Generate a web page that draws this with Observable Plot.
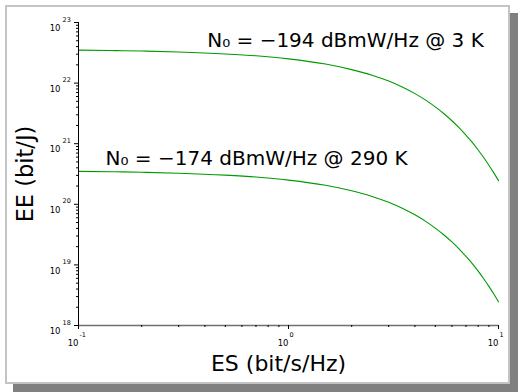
<!DOCTYPE html>
<html>
<head>
<meta charset="utf-8">
<script src="https://cdn.jsdelivr.net/npm/d3@7"></script>
<script src="https://cdn.jsdelivr.net/npm/@observablehq/plot@0.6"></script>
<style>
  html, body { margin: 0; padding: 0; background: #fff; }
  #wrap { position: relative; width: 518px; height: 392px; overflow: hidden; }
  #panel { position: absolute; left: 5px; top: 5px; width: 505px; height: 379px; box-sizing: border-box;
           border: 2px solid #c4c4c4; background: #fff; box-shadow: 8px 8px 0 #808080; }
  #chart { position: absolute; left: 0; top: 0; }
</style>
</head>
<body>
<div id="wrap"><div id="panel"></div><div id="chart"></div></div>
<script>
// Spectral efficiency (bit/s/Hz)
const es = [0.1, 0.15, 0.2, 0.3, 0.5, 0.7, 1, 1.5, 2, 2.5, 3, 3.5, 4, 4.5, 5, 5.5, 6, 6.5, 7, 7.5, 8, 8.5, 9, 9.5, 10];
// Energy efficiency (bit/J), N0 = -194 dBmW/Hz @ 3 K
const eeCold = [3.50e22, 3.44e22, 3.38e22, 3.26e22, 3.03e22, 2.82e22, 2.51e22, 2.06e22, 1.67e22, 1.35e22,
                1.08e22, 8.52e21, 6.70e21, 5.23e21, 4.05e21, 3.12e21, 2.39e21, 1.82e21, 1.38e21, 1.05e21,
                7.88e20, 5.91e20, 4.42e20, 3.30e20, 2.46e20];
// Energy efficiency (bit/J), N0 = -174 dBmW/Hz @ 290 K
const eeWarm = [3.50e20, 3.44e20, 3.38e20, 3.26e20, 3.03e20, 2.82e20, 2.51e20, 2.06e20, 1.67e20, 1.35e20,
                1.08e20, 8.52e19, 6.70e19, 5.23e19, 4.05e19, 3.12e19, 2.39e19, 1.82e19, 1.38e19, 1.05e19,
                7.88e18, 5.91e18, 4.42e18, 3.30e18, 2.46e18];
const seriesNames = ["N₀ = −194 dBmW/Hz @ 3 K", "N₀ = −174 dBmW/Hz @ 290 K"];
const xMajor = [0.1, 1, 10];
const xExp = ["-1", "0", "1"];
const yMajor = [1e18, 1e19, 1e20, 1e21, 1e22, 1e23];
const yExp = ["18", "19", "20", "21", "22", "23"];
const xLabel = "ES (bit/s/Hz)";
const yLabel = "EE (bit/J)";

const xMinor = xMajor.slice(0, -1).flatMap(d => [2,3,4,5,6,7,8,9].map(k => k * d));
const yMinor = yMajor.slice(0, -1).flatMap(d => [2,3,4,5,6,7,8,9].map(k => k * d));

const rows = [
  ...es.map((x, i) => ({x, y: eeCold[i], s: seriesNames[0]})),
  ...es.map((x, i) => ({x, y: eeWarm[i], s: seriesNames[1]}))
];

const font = "DejaVu Sans";
const green = "#009a00";

const chart = Plot.plot({
  width: 518, height: 392,
  marginLeft: 78, marginRight: 20, marginTop: 22, marginBottom: 67,
  style: {fontFamily: font, background: "transparent", overflow: "visible"},
  x: {type: "log", domain: [0.1, 10], label: null, axis: null},
  y: {type: "log", domain: [1e18, 1e23], label: null, axis: null},
  marks: [
    Plot.line(rows, {x: "x", y: "y", z: "s", stroke: green, strokeWidth: 1.1, curve: "monotone-x"}),
    // axes lines
    Plot.ruleY([1e18], {stroke: "#707070", strokeWidth: 1.3}),
    Plot.ruleX([0.1], {stroke: "#000", strokeWidth: 1}),
    // ticks
    Plot.axisX(xMinor, {tickSize: 2, tickFormat: () => "", stroke: "#000"}),
    Plot.axisX(xMajor, {tickSize: 4, tickFormat: () => "", stroke: "#000"}),
    Plot.axisY(yMinor, {tickSize: 2, tickFormat: () => "", stroke: "#000"}),
    Plot.axisY(yMajor, {tickSize: 4, tickFormat: () => "", stroke: "#000"}),
    // x tick labels
    Plot.text(xMajor, {x: d => d, y: 1e18, text: () => "10", textAnchor: "end", dy: 18, fontSize: 8.5, fill: "#000"}),
    Plot.text(xMajor, {x: d => d, y: 1e18, text: (d, i) => xExp[i], textAnchor: "start", dx: 1, dy: 9, fontSize: 6.5, fill: "#000"}),
    // y tick labels
    Plot.text(yMajor, {x: 0.1, y: d => d, text: () => "10", textAnchor: "end", dx: -18, dy: 6, fontSize: 8.5, fill: "#000"}),
    Plot.text(yMajor, {x: 0.1, y: d => d, text: (d, i) => yExp[i], textAnchor: "start", dx: -16, dy: -3, fontSize: 6.5, fill: "#000"}),
    // axis labels
    Plot.text([xLabel], {x: 1, y: 1e18, dx: -10, dy: 38, fontSize: 22, fill: "#000"}),
    Plot.text([yLabel], {x: 0.1, y: 10 ** 20.5, dx: -53, rotate: -90, fontSize: 22.5, fill: "#000"}),
    // annotations
    Plot.text([seriesNames[0]], {x: 0.41, y: 5.05e22, textAnchor: "start", fontSize: 20, fill: "#000"}),
    Plot.text([seriesNames[1]], {x: 0.1345, y: 5.7e20, textAnchor: "start", fontSize: 20, fill: "#000"})
  ]
});
document.getElementById("chart").appendChild(chart);
</script>
</body>
</html>
